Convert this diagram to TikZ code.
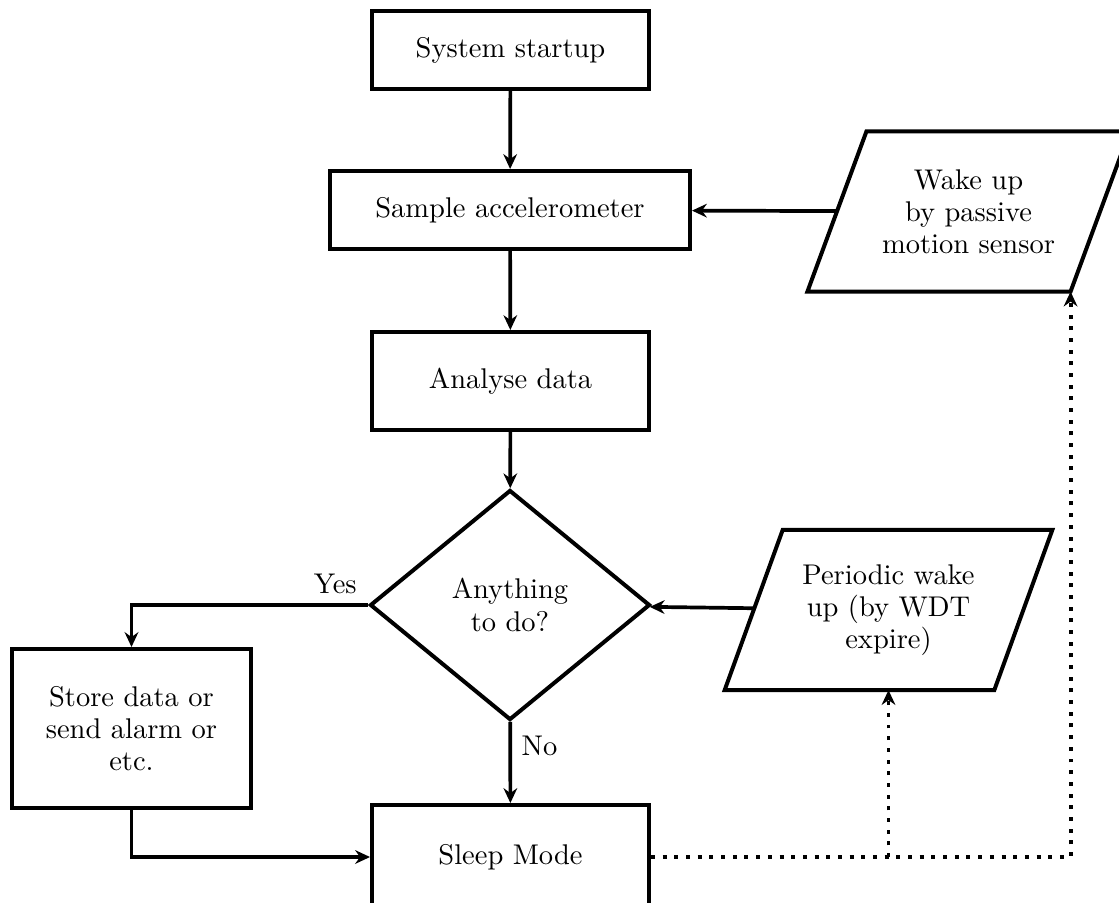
\documentclass[tikz,border=0pt]{standalone}
\usepackage{tikz}
\usetikzlibrary{arrows.meta,shapes.geometric,calc}
\newdimen\px \px=0.3509pt
\begin{document}
\begin{tikzpicture}[x=1\px, y=-1\px,
  font=\fontsize{10}{11.3}\selectfont,
  box/.style={draw, line width=1.4pt, rectangle, minimum width=277\px,
    minimum height=78\px, align=center, inner sep=0pt},
  decision/.style={draw, line width=1.4pt, diamond, minimum width=280\px,
    minimum height=230\px, align=center, inner sep=0pt},
  iobody/.style={rectangle, minimum height=159\px, align=center, inner sep=0pt},
  ioframe/.style={draw, line width=1.4pt, line join=miter},
  tip/.style={-{Stealth[length=5.2pt, width=4.8pt, inset=1.7pt]}},
  conn/.style={line width=1.3pt, tip},
  dots/.style={line width=1.4pt, dash pattern=on 1.4pt off 2.7pt, tip}]

  % page area
  \fill[white] (0,0) rectangle (1119,902);
  \useasboundingbox (0,0) rectangle (1119,902);

  % main column
  \node[box] (start) at (510.5,50) {System startup};
  \node[box, minimum width=360\px] (sample) at (510,210) {Sample accelerometer};
  \node[box, minimum height=98\px] (analyse) at (510.5,381) {Analyse data};
  \node[decision] (dec) at (510,605) {Anything\\to do?};
  \node[box, minimum width=239\px, minimum height=159\px] (store) at (131.5,728.5)
    {Store data or\\send alarm or\\etc.};
  \node[box, minimum height=104\px] (sleep) at (510.5,857) {Sleep Mode};

  % wake-up sources (parallelograms)
  \node[iobody, minimum width=262\px] (wake) at (968.5,211.5)
    {Wake up\\by passive\\motion sensor};
  \draw[ioframe] ([xshift=29.5\px]wake.north west) -- ([xshift=29.5\px]wake.north east)
    -- ([xshift=-29.5\px]wake.south east) -- ([xshift=-29.5\px]wake.south west) -- cycle;
  \node[iobody, minimum width=268.5\px] (wdt) at (888.5,610)
    {Periodic wake\\up (by WDT\\expire)};
  \draw[ioframe] ([xshift=29\px]wdt.north west) -- ([xshift=29\px]wdt.north east)
    -- ([xshift=-29\px]wdt.south east) -- ([xshift=-29\px]wdt.south west) -- cycle;

  % flow
  \draw[conn] (start) -- (sample);
  \draw[conn] (sample) -- (analyse);
  \draw[conn] (analyse) -- (dec);
  \draw[conn] (dec) -- node[right, pos=0.3] {No} (sleep);
  \draw[conn] (dec.west) -| node[above left, pos=0] {Yes} (store.north);
  \draw[conn] (store.south) |- (sleep.west);
  \draw[conn] (wake) -- (sample);
  \draw[conn] (wdt) -- (dec);

  % wake-up signals leaving sleep mode
  \coordinate (wakecorner) at ($(wake.south east)+(-29.5,0)$);
  \coordinate (fork) at (wdt.south |- sleep.east);
  \draw[dots] (sleep.east) -| (wakecorner);
  \draw[dots] (fork) -- (wdt.south);
\end{tikzpicture}
\end{document}
